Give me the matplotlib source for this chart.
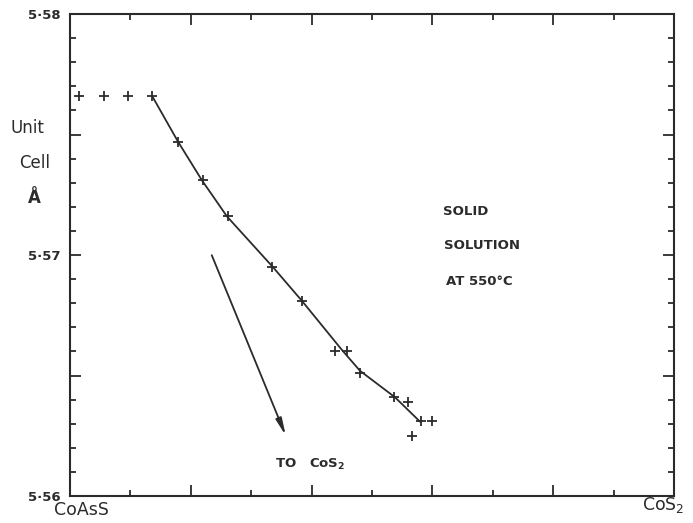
import matplotlib.pyplot as plt
import numpy as np

# === DATOS ===
comp_x = [0.015, 0.056, 0.096, 0.136, 0.179, 0.220, 0.262, 0.334, 0.384,
          0.439, 0.459, 0.480, 0.536, 0.560, 0.581, 0.599, 0.566]
cell_a = [5.5766, 5.5766, 5.5766, 5.5766, 5.5747, 5.5731, 5.5716, 5.5695,
          5.5681, 5.5660, 5.5660, 5.5651, 5.5641, 5.5639, 5.5631, 5.5631, 5.5625]

# curva trazada a mano
line_x = [0.136, 0.179, 0.2185, 0.260, 0.336, 0.384, 0.449, 0.480, 0.538, 0.579]
line_y = [5.5766, 5.5747, 5.5731, 5.5716, 5.5695, 5.5681, 5.5661, 5.5652, 5.5641, 5.5631]

arrow_start = (0.233, 5.5701)
arrow_end = (0.359, 5.5624)

ytick_labels = ["5·56", "", "5·57", "", "5·58"]

ink = "#2b2b2b"

fig = plt.figure(figsize=(6.93, 5.23), dpi=100)
ax = fig.add_axes([0.101, 0.0516, 0.8715, 0.9215])

ax.plot(line_x, line_y, color=ink, lw=1.3)
ax.plot(comp_x, cell_a, linestyle="none", marker="+", markersize=7,
        markeredgewidth=1.3, color=ink)

ax.annotate("", xy=arrow_end, xytext=arrow_start,
            arrowprops=dict(arrowstyle="-|>,head_length=1.0,head_width=0.18",
                            color=ink, lw=1.3))

ax.set_xlim(0, 1)
ax.set_ylim(5.56, 5.58)

ax.set_xticks(np.arange(0.2, 1.0, 0.2))
ax.set_xticks(np.arange(0.1, 1.0, 0.2), minor=True)
ax.set_xticklabels([])
ax.set_yticks(np.arange(5.56, 5.5801, 0.005))
ax.set_yticks(np.arange(5.56, 5.5801, 0.001), minor=True)
ax.set_yticklabels(ytick_labels)

ax.tick_params(which="both", direction="in", top=True, right=True, color=ink, width=1.3)
ax.tick_params(which="major", length=8)
ax.tick_params(which="minor", length=4.5)
ax.tick_params(axis="y", labelsize=9.5, pad=7, labelcolor=ink)
for lab in ax.get_yticklabels():
    lab.set_fontweight("bold")

for s in ax.spines.values():
    s.set_linewidth(1.5)
    s.set_color(ink)

txt = dict(color=ink, fontweight="bold", fontsize=9.5)
ax.text(0.618, 5.5718, "SOLID", va="center", **txt)
ax.text(0.619, 5.5704, "SOLUTION", va="center", **txt)
ax.text(0.622, 5.5689, "AT 550°C", va="center", **txt)
ax.text(0.339, 5.5613, "TO   CoS$_\\mathbf{2}$", va="center", **txt)

fig.text(0.040, 0.755, "Unit", ha="center", va="center", color=ink, fontsize=12)
fig.text(0.050, 0.688, "Cell", ha="center", va="center", color=ink, fontsize=12)
fig.text(0.049, 0.622, "Å", ha="center", va="center", color=ink, fontsize=12, fontweight="bold")
fig.text(0.118, 0.008, "CoAsS", ha="center", va="bottom", color=ink, fontsize=12.5)
fig.text(0.957, 0.016, "CoS$_2$", ha="center", va="bottom", color=ink, fontsize=12.5)

fig.savefig("out.png", dpi=100)
